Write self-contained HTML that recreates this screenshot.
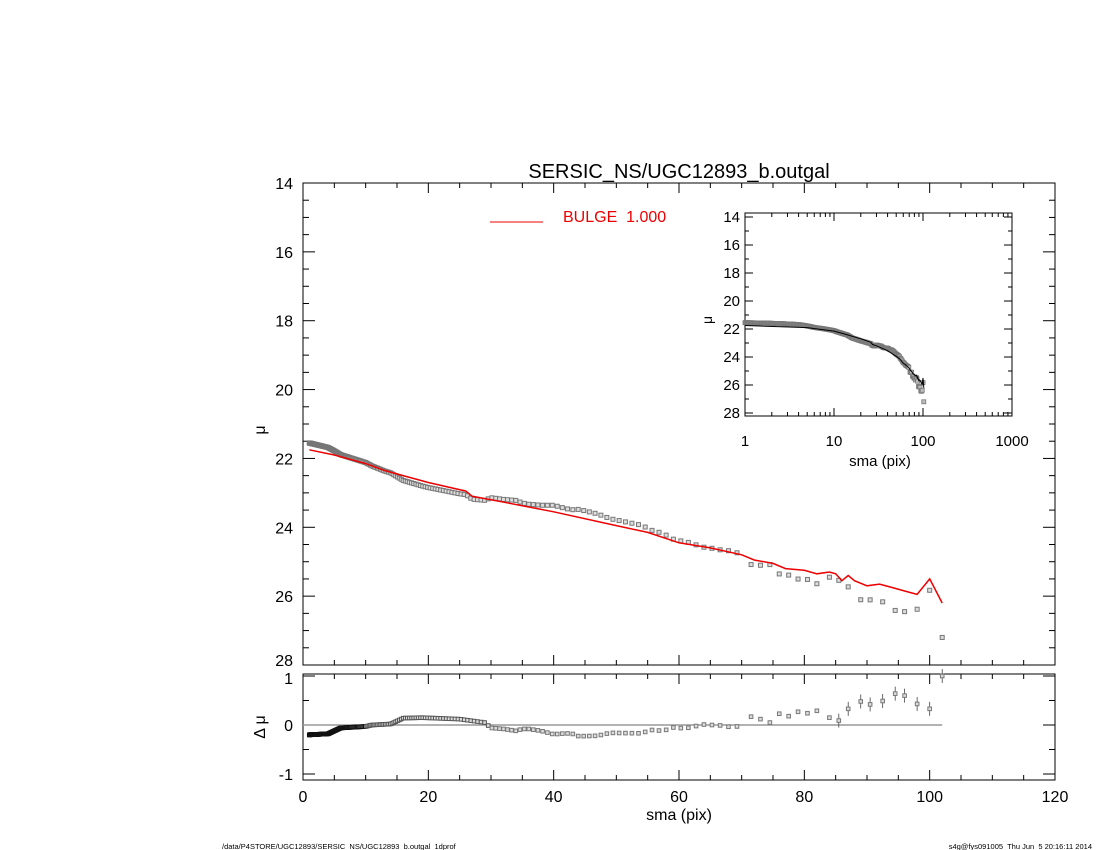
<!DOCTYPE html>
<html><head><meta charset="utf-8"><style>
html,body{margin:0;padding:0;background:#fff;}
svg{display:block;font-family:"Liberation Sans",sans-serif;}
</style></head><body>
<svg id="s" width="1100" height="850" xmlns="http://www.w3.org/2000/svg">
<rect width="1100" height="850" fill="#fff"/>
<text x="679" y="178" font-size="20" text-anchor="middle">SERSIC_NS/UGC12893_b.outgal</text>
<line x1="490" y1="222" x2="543" y2="222" stroke="#e00" stroke-width="1"/>
<text x="563" y="222" font-size="16" fill="#e00">BULGE&#160;&#160;1.000</text>
<text x="679" y="820" font-size="16" text-anchor="middle">sma (pix)</text>
<text x="265" y="430" font-size="16" text-anchor="middle" transform="rotate(-90 265 430)">μ</text>
<text x="265" y="727" font-size="16" text-anchor="middle" transform="rotate(-90 265 727)">Δ μ</text>
<text x="712" y="320" font-size="14" text-anchor="middle" transform="rotate(-90 712 320)">μ</text>
<text x="880" y="466" font-size="15" text-anchor="middle">sma (pix)</text>
<text x="222" y="849" font-size="7.5">/data/P4STORE/UGC12893/SERSIC_NS/UGC12893_b.outgal_1dprof</text>
<text x="1092" y="849" font-size="7.5" text-anchor="end">s4g@fys091005&#160; Thu Jun&#160; 5 20:16:11 2014</text>
<g id="g"></g>
</svg>
<script>
var g=document.getElementById('g'),h='';
function L(a,b,c,d,s,w){h+='<line x1="'+a+'" y1="'+b+'" x2="'+c+'" y2="'+d+'" stroke="'+(s||'#000')+'" stroke-width="'+(w||1)+'"/>';}
function T(x,y,t,sz,an){h+='<text x="'+x+'" y="'+y+'" font-size="'+sz+'" text-anchor="'+(an||'middle')+'">'+t+'</text>';}
var X0=303,X1=1055,Y0=183,Y1=665;
function px(x){return X0+x*(X1-X0)/120;}
function py(m){return Y0+(m-14)*(Y1-Y0)/14;}
var RT=674,RB=780;function ry(r){return 725-r*49;}
function interp(k,x){if(x<=k[0][0])return k[0][1];for(var i=1;i<k.length;i++){if(x<=k[i][0]){var a=k[i-1],b=k[i];return a[1]+(b[1]-a[1])*(x-a[0])/(b[0]-a[0]);}}return k[k.length-1][1];}
var M=[[1,21.75],[5,21.9],[10,22.15],[13,22.35],[20,22.7],[26,22.95],[27,23.1],[30,23.2],[40,23.55],[50,23.95],[55,24.15],[60,24.45],[65,24.6],[70,24.8],[72,24.95],[75,25.05],[77,25.2],[80,25.25],[82,25.35],[84,25.3],[85,25.35],[86,25.55],[87,25.4],[88,25.55],[90,25.7],[92,25.65],[94,25.75],[96,25.85],[98,25.95],[100,25.5],[102,26.2]];
var R=[[1,-0.2],[4,-0.18],[6,-0.06],[10,-0.03],[11,0],[14,0.02],[16,0.14],[19,0.15],[25,0.12],[29,0.05],[30,-0.06],[32,-0.08],[34,-0.12],[35,-0.08],[36,-0.08],[38,-0.12],[40,-0.19],[42,-0.17],[43,-0.18],[44,-0.23],[47,-0.22],[49,-0.16],[54,-0.17],[55.5,-0.1],[57.5,-0.12],[59,-0.05],[61,-0.07],[63.5,0],[64.5,0.02],[66,-0.02],[67,0],[68.5,-0.06],[70,0],[71.5,0.17],[73,0.12],[74.5,0.05],[76,0.23],[77.5,0.18],[79,0.27],[80.5,0.24],[82,0.29],[84,0.15],[85.5,0.09],[87,0.33],[89,0.48],[90.5,0.42],[92.5,0.49],[94.5,0.64],[96,0.6],[98,0.43],[100,0.33],[102,1.0]];
var xs=[];for(var x=1;x<99;x*=1.02)xs.push(x);
var extra=[71.5,73,74.5,76,77.5,79,80.5,82,84,85.5,87,89,90.5,92.5,94.5,96,98,100,102];
xs=xs.filter(function(v){return v<70.5;}).concat(extra);
h+='<rect x="'+X0+'" y="'+Y0+'" width="'+(X1-X0)+'" height="'+(Y1-Y0)+'" fill="none" stroke="#000"/>';
h+='<rect x="'+X0+'" y="'+RT+'" width="'+(X1-X0)+'" height="'+(RB-RT)+'" fill="none" stroke="#000"/>';
for(var v=0;v<=120;v+=5){var p=px(v),l=(v%20==0)?10:5;L(p,Y0,p,Y0+l);L(p,Y1,p,Y1-l);L(p,RT,p,RT+l);L(p,RB,p,RB-l);if(v%20==0)T(p,802,v,16);}
for(var m=14;m<=28;m+=0.5){var q=py(m),l=(m%2==0)?12:6;L(X0,q,X0+l,q);L(X1,q,X1-l,q);if(m%2==0)T(293,q+(m==28?1:6),m,16,'end');}
for(var r=-1;r<=1;r+=0.5){var q=ry(r),l=(r%1==0)?12:6;L(X0,q,X0+l,q);L(X1,q,X1-l,q);if(r%1==0)T(293,q+(r==1?8:6),r,16,'end');}
L(px(0),725,px(102),725,'#999',1.5);
var d='';for(var i=0;i<M.length;i++)d+=(i?'L':'M')+px(M[i][0]).toFixed(1)+','+py(M[i][1]).toFixed(1);
for(var i=0;i<xs.length;i++){var x=xs[i],r=interp(R,x),o=interp(M,x)+r;
 var cx=px(x),cy=py(o);h+='<rect x="'+(cx-2)+'" y="'+(cy-2)+'" width="4" height="4" fill="#ddd" stroke="#777" stroke-width="1"/>';
 var c=x<10?'#111':(x<30?'#555':'#777');var ryv=ry(Math.min(r,1.0));
 if(x>85){L(cx,ryv-7,cx,ryv+7,'#444',0.8);}
 h+='<rect x="'+(cx-1.8)+'" y="'+(ryv-1.8)+'" width="3.6" height="3.6" fill="#ddd" stroke="'+c+'" stroke-width="1"/>';}
h+='<path d="'+d+'" fill="none" stroke="#e00" stroke-width="1.5"/>';
var IL=745,IR=1012,IT=213,IB=416;
function ix(x){return IL+Math.log(x)/Math.LN10*(IR-IL)/3;}
function iy(m){return 217+(m-14)*(413-217)/14;}
h+='<rect x="'+IL+'" y="'+IT+'" width="'+(IR-IL)+'" height="'+(IB-IT)+'" fill="#fff" stroke="#000"/>';
for(var dcd=0;dcd<3;dcd++)for(var k=1;k<=10;k++){var p=ix(Math.pow(10,dcd)*k),l=(k==1||k==10)?8:4;L(p,IT,p,IT+l);L(p,IB,p,IB-l);}
[1,10,100,1000].forEach(function(v){T(ix(v),446,v,15);});
for(var m=14;m<=28;m+=1){var q=iy(m),l=(m%2==0)?8:4;L(IL,q,IL+l,q);L(IR,q,IR-l,q);if(m%2==0)T(740,q+5,m,15,'end');}
for(var i=0;i<xs.length;i++){var x=xs[i],o=interp(M,x)+interp(R,x);h+='<rect x="'+(ix(x)-2)+'" y="'+(iy(o)-2)+'" width="4" height="4" fill="#bbb" stroke="#777" stroke-width="0.8"/>';}
var d2='';for(var i=0;i<M.length;i++)d2+=(i?'L':'M')+ix(M[i][0]).toFixed(1)+','+iy(M[i][1]).toFixed(1);
h+='<path d="'+d2+'" fill="none" stroke="#000" stroke-width="1"/>';
g.innerHTML=h;
</script>
</body></html>
